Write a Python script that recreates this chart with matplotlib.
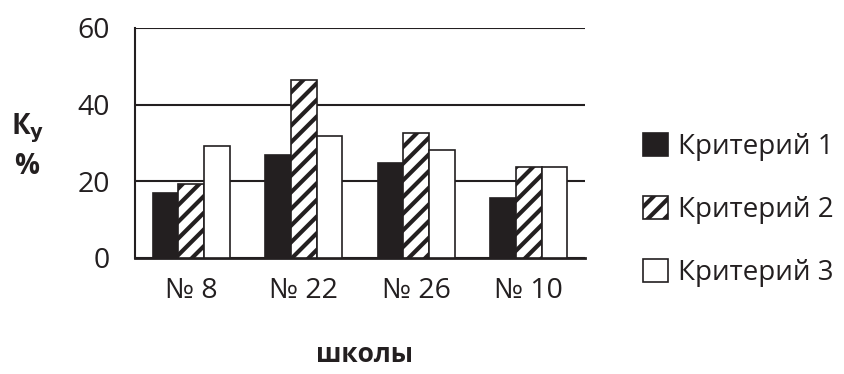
import matplotlib
matplotlib.use("Agg")
import matplotlib.pyplot as plt
import numpy as np
from matplotlib.patches import Patch

plt.rcParams['font.family'] = ['Open Sans', 'DejaVu Sans']
plt.rcParams['hatch.linewidth'] = 3.0

schools = ["№ 8", "№ 22", "№ 26", "№ 10"]
series_names = ["Критерий 1", "Критерий 2", "Критерий 3"]
crit1 = [17.0, 27.0, 24.7, 15.6]
crit2 = [19.2, 46.4, 32.5, 23.7]
crit3 = [29.3, 31.7, 28.2, 23.7]
yticks = [0, 20, 40, 60]

fig = plt.figure(figsize=(8.45, 3.74), dpi=100)
ax = fig.add_axes([135/845, 1-258/374, 450/845, 230/374])

x = np.arange(len(schools))
w = 0.228
styles = [dict(facecolor="#231f20", hatch=None),
          dict(facecolor="white", hatch="//"),
          dict(facecolor="white", hatch=None)]
for i, (vals, st) in enumerate(zip([crit1, crit2, crit3], styles)):
    ax.bar(x + (i - 1) * w, vals, width=w, facecolor=st["facecolor"],
           edgecolor="#231f20", linewidth=1.2, hatch=st["hatch"], zorder=3)

ax.set_xlim(-0.5, 3.5)
ax.set_ylim(0, 60)
ax.set_yticks(yticks)
ax.set_xticks(x)
ax.set_xticklabels(schools)
ax.tick_params(axis='both', length=0, labelsize=20.5, colors="#231f20")
ax.tick_params(axis='y', pad=18)
ax.tick_params(axis='x', pad=14)
ax.yaxis.grid(True, color="#231f20", linewidth=1.5, zorder=0)
ax.set_axisbelow(True)
for s in ["top", "right"]:
    ax.spines[s].set_visible(False)
ax.spines["left"].set_color("#231f20")
ax.spines["left"].set_linewidth(1.5)
ax.spines["bottom"].set_color("#231f20")
ax.spines["bottom"].set_linewidth(2)

fig.text(365/845, 1-355/374, "школы", ha="center", va="center",
         fontsize=19, fontweight="bold", color="#231f20")
fig.text(28/845, 1-128/374, r"К$_\mathbf{у}$", ha="center", va="center",
         fontsize=20, fontweight="bold", color="#231f20")
fig.text(27/845, 1-166/374, "%", ha="center", va="center",
         fontsize=20, fontweight="bold", color="#231f20")

handles = [Patch(facecolor=st["facecolor"], edgecolor="#231f20", hatch=st["hatch"], linewidth=1.2)
           for st in styles]
leg = fig.legend(handles, series_names, loc="center left",
                 bbox_to_anchor=(629/845, 1-210/374), frameon=False,
                 fontsize=20, handlelength=0.9, handleheight=0.9,
                 handletextpad=0.35, labelspacing=1.25, borderpad=0)
for t in leg.get_texts():
    t.set_color("#231f20")

fig.savefig("out.png", dpi=100)
